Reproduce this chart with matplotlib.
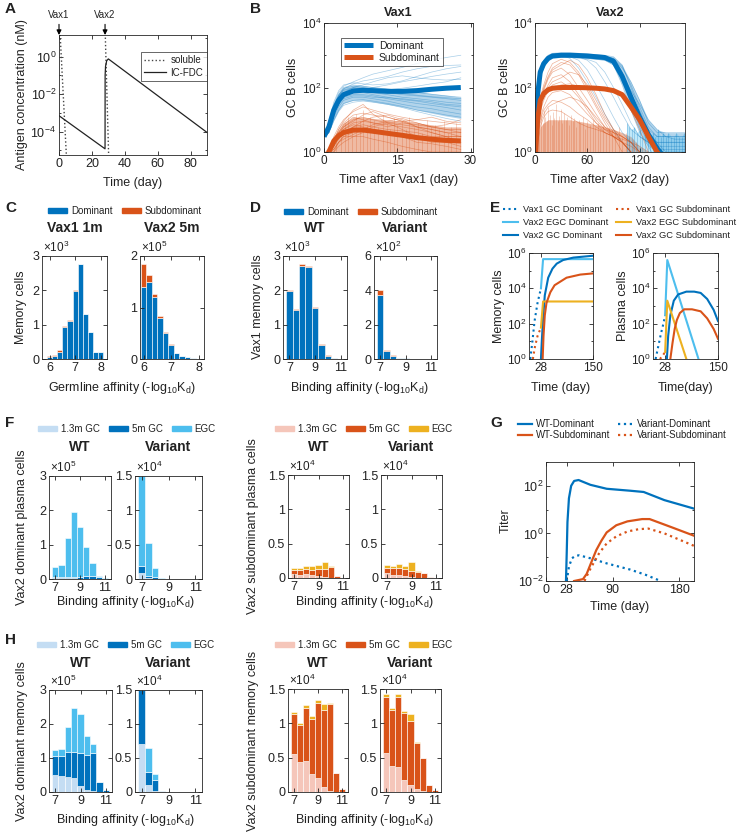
import numpy as np
import matplotlib
matplotlib.use('Agg')
import matplotlib.pyplot as plt
from matplotlib.ticker import LogLocator, NullFormatter
from matplotlib.lines import Line2D
from matplotlib.patches import Patch

plt.rcParams['font.family'] = ['Liberation Sans', 'DejaVu Sans']
plt.rcParams['mathtext.fontset'] = 'custom'
plt.rcParams['mathtext.rm'] = 'Liberation Sans'
plt.rcParams['mathtext.it'] = 'Liberation Sans:italic'
plt.rcParams['mathtext.bf'] = 'Liberation Sans:bold'
plt.rcParams['mathtext.default'] = 'regular'
plt.rcParams['text.color'] = '#222222'

BLUE = '#0072BD'
ORANGE = '#D95319'
YELLOW = '#EDB120'
LBLUE = '#4DBEEE'
PALEBLUE = '#C4DDF3'
PINK = '#F5C6BA'

# ---------------- data ----------------
# A: antigen concentration
a_fdc_t = [0, 28, 28.05, 28.3, 29, 30, 90]
a_fdc_v = [7e-4, 1.2e-5, 0.1, 0.3, 0.6, 0.75, 9e-5]
a_sol1_t = [0, 4.5]
a_sol1_v = [220, 5e-6]
a_sol2_t = [28, 30.2]
a_sol2_v = [40, 5e-6]

# B: GC B cells, Vax1
b1_t = [0, 1, 2, 3, 4, 6, 8, 10, 13, 16, 19, 22, 25, 28]
b1_dom_mean = [3, 6, 20, 40, 60, 78, 82, 80, 76, 76, 80, 88, 95, 100]
b1_sub_mean = [0.5, 1, 2.2, 3.2, 4, 4.8, 4.8, 4.4, 3.8, 3.3, 2.8, 2.5, 2.3, 2.2]
b1_dom_lo = [3, 4, 10, 20, 32, 40, 40, 36, 30, 25, 20, 16, 13, 11]
b1_dom_hi = [3, 8, 30, 65, 100, 120, 115, 105, 95, 85, 75, 65, 58, 50]
b1_sub_hi = [1, 1.5, 3, 5, 8, 12, 12, 11, 10, 9, 8, 7, 6, 6]
b1_dom_traces = [
    [3, 8, 30, 70, 110, 150, 200, 260, 330, 420, 550, 700, 850, 1000],
    [3, 7, 25, 55, 90, 130, 160, 180, 220, 300, 380, 450, 480, 500],
    [3, 9, 35, 80, 120, 140, 130, 120, 130, 160, 220, 300, 380, 450],
    [3, 6, 20, 45, 70, 100, 120, 150, 200, 230, 200, 180, 170, 180],
    [3, 7, 28, 60, 95, 110, 100, 90, 85, 95, 110, 130, 150, 200],
    [3, 6, 22, 50, 80, 95, 90, 80, 70, 60, 55, 50, 45, 40],
    [3, 5, 18, 40, 65, 80, 75, 70, 60, 50, 45, 40, 35, 32],
    [3, 5, 16, 35, 55, 70, 70, 60, 50, 42, 38, 32, 28, 25],
    [3, 4, 14, 30, 50, 60, 60, 55, 45, 38, 32, 28, 24, 20],
    [3, 4, 12, 25, 40, 50, 50, 45, 38, 30, 25, 22, 18, 15],
    [3, 4, 10, 20, 32, 40, 42, 38, 32, 26, 20, 17, 14, 12],
    [3, 6, 24, 55, 85, 100, 95, 85, 75, 65, 58, 52, 48, 45],
    [3, 7, 26, 60, 100, 120, 110, 100, 90, 80, 70, 62, 55, 50],
    [3, 5, 15, 30, 45, 55, 55, 50, 48, 45, 40, 36, 30, 28],
    [3, 4, 9, 18, 28, 35, 38, 35, 30, 24, 18, 14, 11, 9],
    [3, 6, 20, 40, 60, 75, 85, 100, 120, 150, 180, 220, 260, 300],
]
b1_sub_traces = [
    [0.5, 1, 3, 6, 10, 18, 25, 20, 15, 12, 10, 9, 8, 7],
    [0.5, 1, 2, 5, 8, 14, 16, 14, 12, 9, 8, 6, 5, 5],
    [0.5, 1, 2, 4, 6, 10, 12, 10, 8, 7, 6, 5, 4, 4],
    [0.5, 1, 1.5, 3, 5, 8, 9, 8, 7, 6, 5, 4, 3, 3],
    [0.5, 1, 1.5, 2.5, 4, 6, 7, 6, 5, 4.5, 4, 3, 3, 2],
    [0.5, 1, 1.2, 2, 3, 4, 5, 4.5, 4, 3, 2.5, 2.2, 2, 2],
    [0.5, 0.5, 1, 1.5, 2, 3, 3, 2.5, 2, 1.5, 1.2, 1, 1, 1],
    [0.5, 1, 2.5, 5, 9, 20, 30, 15, 8, 5, 3, 2, 2, 1.5],
    [0.5, 1, 1.5, 3, 4, 6, 9, 12, 14, 10, 6, 4, 3, 3],
    [0.5, 1, 1, 2, 3, 3, 4, 6, 8, 9, 6, 5, 4, 3],
    [0.5, 1, 2, 4, 7, 12, 10, 8, 6, 8, 7, 6, 5, 4],
    [0.5, 1, 1.5, 3, 5, 7, 6, 5, 4, 3, 2, 1.8, 1.5, 1.2],
    [0.5, 1, 2, 3, 6, 9, 14, 18, 12, 9, 10, 12, 9, 8],
    [0.5, 1, 1.2, 2, 2.5, 3.5, 5, 7, 9, 11, 8, 6, 7, 10],
]
b1_spike_t = [2.5, 3.5, 4.2, 5, 5.8, 6.5, 7.3, 8, 8.8, 9.5, 10.3, 11, 12, 12.8, 13.5, 14.3,
              15, 16, 16.8, 17.5, 18.5, 19.3, 20, 21, 22, 22.8, 23.5, 24.5, 25.3, 26, 27, 27.8]
b1_spike_h = [3, 5, 8, 12, 6, 15, 9, 20, 7, 12, 10, 6, 14, 8, 5, 11,
              7, 9, 5, 12, 6, 8, 4, 10, 6, 7, 5, 9, 4, 6, 8, 5]

# B: GC B cells, Vax2
b2_t = [0, 3, 6, 10, 15, 20, 30, 40, 50, 60, 70, 80, 90, 100, 110, 120, 130, 140, 150, 160, 172]
b2_dom_mean = [1, 60, 300, 550, 800, 950, 1000, 1000, 980, 950, 900, 850, 650, 220, 50, 12, 3.5, 1.3, 0.6, 0.5, 0.5]
b2_sub_mean = [0.5, 10, 40, 65, 85, 95, 100, 100, 100, 98, 95, 90, 80, 60, 25, 10, 3, 1, 0.5, 0.5, 0.5]
b2_dom_lo = [1, 40, 200, 450, 700, 850, 900, 880, 850, 800, 750, 700, 500, 120, 20, 4, 1.5, 1, 1, 1, 1]
b2_dom_hi = [1, 80, 400, 700, 1000, 1150, 1200, 1200, 1150, 1100, 1050, 1000, 900, 500, 150, 40, 10, 5, 4, 4, 4]
b2_sub_hi = [1, 3, 6, 8, 10, 10, 10, 10, 9, 8, 7, 6, 5, 4, 3, 1.5, 1, 1, 1, 1, 1]
b2_dom_traces = [
    [1, 80, 400, 700, 1000, 1150, 1200, 1200, 1150, 1100, 1050, 1000, 900, 500, 100, 20, 5, 3, 3, 3, 3],
    [1, 60, 300, 600, 900, 1050, 1100, 1100, 1050, 1000, 950, 900, 800, 300, 60, 10, 4, 2, 2, 2, 2],
    [1, 50, 250, 500, 800, 950, 1000, 1000, 950, 900, 850, 800, 600, 200, 30, 6, 2, 1.5, 1.5, 1.5, 1.5],
    [1, 40, 200, 450, 700, 850, 900, 900, 850, 800, 750, 700, 500, 120, 20, 4, 1.5, 0.5, 0.5, 0.5, 0.5],
    [1, 70, 350, 650, 950, 1100, 1150, 1100, 1000, 950, 900, 850, 750, 400, 150, 40, 8, 4, 4, 4, 4],
    [1, 50, 250, 550, 850, 1000, 1050, 1000, 900, 700, 400, 150, 50, 15, 5, 3, 2, 2, 2, 2, 2],
    [1, 45, 220, 500, 750, 900, 950, 900, 700, 350, 120, 40, 12, 4, 2, 1, 0.5, 0.5, 0.5, 0.5, 0.5],
    [1, 55, 280, 580, 880, 1000, 1000, 800, 400, 150, 50, 15, 5, 2, 1, 0.5, 0.5, 0.5, 0.5, 0.5, 0.5],
    [1, 60, 300, 600, 900, 1050, 1100, 1050, 1000, 950, 900, 800, 650, 250, 80, 30, 10, 5, 3, 2.5, 2.5],
    [1, 65, 330, 620, 920, 1050, 1100, 1050, 1000, 980, 950, 900, 800, 450, 120, 25, 6, 3, 3, 3, 3],
    [1, 40, 200, 420, 650, 800, 850, 850, 800, 750, 600, 300, 100, 30, 8, 3, 2, 1.2, 1.2, 1.2, 1.2],
    [1, 50, 260, 520, 800, 950, 1000, 950, 900, 850, 800, 750, 600, 180, 40, 10, 3, 2, 1, 1, 1],
]
b2_sub_traces = [
    [0.5, 10, 50, 120, 300, 550, 750, 600, 300, 100, 30, 10, 4, 2, 1, 0.5, 0.5, 0.5, 0.5, 0.5, 0.5],
    [0.5, 8, 40, 100, 220, 400, 600, 500, 250, 80, 25, 8, 3, 1, 0.5, 0.5, 0.5, 0.5, 0.5, 0.5, 0.5],
    [0.5, 6, 30, 80, 180, 300, 400, 250, 100, 40, 15, 6, 3, 2, 1, 0.5, 0.5, 0.5, 0.5, 0.5, 0.5],
    [0.5, 5, 25, 60, 120, 200, 250, 150, 60, 25, 10, 5, 3, 2, 1.5, 1, 0.5, 0.5, 0.5, 0.5, 0.5],
    [0.5, 4, 18, 40, 80, 120, 150, 100, 50, 20, 8, 4, 3, 2, 1, 0.5, 0.5, 0.5, 0.5, 0.5, 0.5],
    [0.5, 3, 12, 25, 50, 70, 80, 60, 30, 15, 8, 5, 4, 3, 2, 1, 0.5, 0.5, 0.5, 0.5, 0.5],
    [0.5, 3, 10, 20, 30, 40, 35, 25, 15, 10, 6, 4, 3, 2, 1, 0.5, 0.5, 0.5, 0.5, 0.5, 0.5],
    [0.5, 2, 6, 12, 18, 20, 18, 12, 8, 6, 5, 4, 3, 2.5, 2, 1, 0.5, 0.5, 0.5, 0.5, 0.5],
    [0.5, 7, 35, 90, 200, 350, 500, 700, 500, 200, 60, 15, 5, 2, 1, 0.5, 0.5, 0.5, 0.5, 0.5, 0.5],
    [0.5, 4, 20, 50, 100, 150, 200, 300, 250, 120, 40, 12, 5, 3, 2, 1, 0.5, 0.5, 0.5, 0.5, 0.5],
    [0.5, 3, 8, 15, 25, 30, 40, 50, 40, 25, 12, 6, 4, 3, 2, 1.5, 1, 0.5, 0.5, 0.5, 0.5],
    [0.5, 8, 40, 70, 90, 100, 120, 130, 110, 100, 110, 90, 80, 60, 20, 5, 1, 0.5, 0.5, 0.5, 0.5],
]
b2_sub_spike_t = [2, 4, 5, 7, 9, 10, 12, 14, 15, 17, 19, 21, 22, 24, 26, 28, 30, 31, 33, 35,
                  37, 39, 41, 43, 45, 47, 50, 52, 55, 57, 60, 63, 66, 69, 72, 75, 78, 81, 85, 88,
                  92, 96, 100, 104, 108, 112, 116]
b2_sub_spike_h = [3, 6, 10, 15, 8, 20, 12, 9, 25, 14, 7, 18, 11, 30, 9, 13, 22, 8, 16, 10,
                  12, 7, 14, 9, 11, 6, 10, 8, 12, 5, 9, 7, 10, 6, 8, 5, 7, 4, 6, 5,
                  4, 6, 3, 4, 3, 2.5, 2]
b2_dom_spike_t = [105, 108, 111, 114, 117, 120, 123, 126, 129, 132, 135, 138, 141, 144, 147,
                  150, 153, 156, 159, 162, 165, 168, 171]
b2_dom_spike_h = [8, 6, 5, 6, 4, 5, 3, 4, 5, 3, 4, 3, 5, 3, 4, 3, 4, 3, 3, 4, 3, 3, 4]

# C: memory cells by germline affinity
c_bins = [6.0, 6.2, 6.4, 6.6, 6.8, 7.0, 7.2, 7.4, 7.6, 7.8, 8.0]
c_vax1_dom = [0.07, 0.1, 0.19, 0.92, 1.11, 1.97, 2.76, 1.3, 0.8, 0.2, 0.19]     # x10^3
c_vax1_sub = [0.03, 0.03, 0.06, 0.03, 0.03, 0.03, 0.01, 0, 0, 0, 0]
c_vax2_dom = [1.4, 1.49, 1.21, 0.8, 0.51, 0.27, 0.11, 0.05, 0.03, 0.01, 0.005]  # x10^5
c_vax2_sub = [0.44, 0.15, 0.06, 0.03, 0.02, 0.02, 0.005, 0, 0, 0, 0]

# D: Vax1 memory cells by binding affinity
aff_bins = [7.0, 7.5, 8.0, 8.5, 9.0, 9.5, 10.0, 10.5, 11.0]
d_wt_dom = [1.98, 1.42, 2.72, 2.68, 1.48, 0.41, 0.1, 0.02, 0.01]   # x10^3
d_wt_sub = [0.04, 0.04, 0.04, 0.04, 0.04, 0.03, 0.03, 0, 0]
d_var_dom = [3.72, 0.44, 0.15, 0.03, 0.03, 0.01, 0, 0, 0]          # x10^2
d_var_sub = [0.3, 0.1, 0.1, 0.02, 0.05, 0.01, 0, 0, 0]

# E: memory / plasma cell kinetics
e_mem = {
    'Vax1 GC Dominant': ([3, 8, 13, 20, 28], [1, 10, 140, 1500, 1e4]),
    'Vax2 EGC Dominant': ([28, 33, 150], [1e4, 4.5e5, 4.5e5]),
    'Vax2 GC Dominant': ([28, 30, 33, 37, 45, 55, 65, 80, 104, 150],
                         [1, 10, 200, 4000, 4e4, 1.3e5, 2.5e5, 4e5, 5.5e5, 7e5]),
    'Vax1 GC Subdominant': ([9, 14, 20, 28], [1, 5, 20, 60]),
    'Vax2 EGC Subdominant': ([28, 33, 150], [60, 1800, 1800]),
    'Vax2 GC Subdominant': ([32, 34, 37, 41, 50, 60, 88, 120, 150],
                            [1, 20, 300, 1500, 6000, 1.5e4, 4e4, 6e4, 7e4]),
}
e_pc = {
    'Vax1 GC Dominant': ([6, 12, 18, 24, 28], [1, 5, 25, 100, 300]),
    'Vax2 EGC Dominant': ([28, 33, 105], [300, 4e5, 1]),
    'Vax2 GC Dominant': ([32, 35, 40, 48, 58, 77, 95, 110, 125, 140, 150],
                         [1, 20, 300, 2000, 4500, 6500, 6500, 5500, 2500, 600, 140]),
    'Vax1 GC Subdominant': ([16, 22, 28], [1, 1.5, 2.5]),
    'Vax2 EGC Subdominant': ([28, 33, 77], [2.5, 2000, 1]),
    'Vax2 GC Subdominant': ([40, 45, 50, 55, 62, 72, 90, 110, 125, 140, 150],
                            [1, 8, 50, 160, 400, 650, 650, 500, 200, 50, 14]),
}
e_style = {
    'Vax1 GC Dominant': (BLUE, ':'), 'Vax2 EGC Dominant': (LBLUE, '-'),
    'Vax2 GC Dominant': (BLUE, '-'), 'Vax1 GC Subdominant': (ORANGE, ':'),
    'Vax2 EGC Subdominant': (YELLOW, '-'), 'Vax2 GC Subdominant': (ORANGE, '-'),
}

# F: Vax2 plasma cells by binding affinity (layers: 1.3m GC, 5m GC, EGC)
f_dom_wt = [[0.02, 0.02, 0.02, 0.02, 0.01, 0.01, 0, 0, 0],
            [0.04, 0.05, 0.05, 0.05, 0.06, 0.08, 0.09, 0.05, 0.01],
            [0.28, 0.35, 1.11, 1.88, 1.45, 0.85, 0.37, 0.05, 0.02]]     # x10^5
f_dom_var = [[0.09, 0.01, 0.005, 0, 0, 0, 0, 0, 0],
             [0.1, 0.03, 0.02, 0.005, 0, 0, 0, 0, 0],
             [1.31, 0.49, 0.14, 0.005, 0, 0, 0, 0, 0]]                # x10^4
f_sub_wt = [[0.06, 0.05, 0.06, 0.04, 0.025, 0.01, 0.005, 0, 0],
            [0.06, 0.06, 0.07, 0.08, 0.11, 0.12, 0.15, 0.035, 0.005],
            [0.025, 0.035, 0.04, 0.05, 0.05, 0.1, 0.015, 0, 0]]        # x10^4
f_sub_var = [[0.07, 0.05, 0.04, 0.025, 0.015, 0.005, 0.002, 0, 0],
             [0.075, 0.095, 0.105, 0.11, 0.09, 0.08, 0.068, 0.01, 0.005],
             [0.05, 0.025, 0.055, 0.035, 0.125, 0.01, 0.005, 0, 0]]    # x10^4

# G: titers
g_names = ['WT-Dominant', 'WT-Subdominant', 'Variant-Dominant', 'Variant-Subdominant']
g_curves = {
    'WT-Dominant': ([27, 28, 29, 31, 34, 38, 44, 60, 82, 114, 132, 160, 200],
                    [0.01, 0.15, 3, 30, 100, 160, 175, 110, 75, 62, 55, 25, 11]),
    'WT-Subdominant': ([38, 50, 55, 62, 68, 75, 82, 95, 110, 130, 140, 170, 200],
                       [0.01, 0.012, 0.02, 0.07, 0.2, 0.5, 1.1, 2.2, 3.2, 4, 4, 1.8, 0.8]),
    'Variant-Dominant': ([28, 31, 35, 40, 45, 60, 82, 114, 135, 155],
                         [0.01, 0.04, 0.09, 0.115, 0.12, 0.09, 0.055, 0.03, 0.018, 0.01]),
    'Variant-Subdominant': ([52, 58, 64, 72, 82, 95, 110, 125, 138, 160, 180, 200],
                            [0.01, 0.025, 0.055, 0.15, 0.38, 0.75, 1.2, 1.5, 1.6, 1.0, 0.55, 0.3]),
}
g_style = {'WT-Dominant': (BLUE, '-'), 'WT-Subdominant': (ORANGE, '-'),
           'Variant-Dominant': (BLUE, ':'), 'Variant-Subdominant': (ORANGE, ':')}

# H: Vax2 memory cells by binding affinity
h_dom_wt = [[0.5, 0.48, 0.44, 0.4, 0.18, 0.05, 0.02, 0, 0],
            [0.57, 0.57, 0.73, 0.78, 0.97, 1.05, 1.14, 0.28, 0.06],
            [0.17, 0.22, 0.75, 1.29, 1.13, 0.54, 0.24, 0, 0]]          # x10^5
h_dom_var = [[0.7, 0.1, 0.02, 0, 0, 0, 0, 0, 0],
             [0.8, 0.2, 0.15, 0.02, 0.005, 0, 0, 0, 0],
             [0, 0.35, 0.09, 0, 0, 0, 0, 0, 0]]                      # x10^4
h_sub_wt = [[0.56, 0.44, 0.45, 0.26, 0.2, 0.07, 0.02, 0, 0],
            [0.58, 0.53, 0.78, 0.81, 1.1, 1.13, 1.26, 0.28, 0.05],
            [0.03, 0.03, 0.04, 0.04, 0.04, 0.08, 0.02, 0, 0]]          # x10^4
h_sub_var = [[0.57, 0.38, 0.37, 0.17, 0.1, 0.05, 0.01, 0, 0],
             [0.81, 0.82, 1.01, 0.98, 0.94, 0.67, 0.48, 0.1, 0.03],
             [0.05, 0.03, 0.05, 0.03, 0.09, 0.01, 0, 0, 0]]             # x10^4

# ---------------- layout helpers ----------------
W, H = 738, 832
fig = plt.figure(figsize=(W / 100, H / 100), dpi=100)


def box(x0, y0, x1, y1):
    return fig.add_axes([x0 / W, 1 - y1 / H, (x1 - x0) / W, (y1 - y0) / H])


def ftext(x, y, s, **kw):
    kw.setdefault('ha', 'center')
    kw.setdefault('va', 'center')
    return fig.text(x / W, 1 - y / H, s, **kw)


def mstyle(ax, fs=9):
    ax.tick_params(which='both', direction='in', top=True, right=True, labelsize=fs,
                   width=0.6, pad=2, colors='#222222')
    ax.tick_params(which='major', length=3)
    ax.tick_params(which='minor', length=1.6)
    for s in ax.spines.values():
        s.set_linewidth(0.6)
        s.set_color('#262626')


def logy(ax, ticks, lo, hi):
    ax.set_yscale('log')
    ax.set_ylim(lo, hi)
    ax.set_yticks(ticks)
    ax.yaxis.set_minor_locator(LogLocator(base=10, subs=(1.0,), numticks=40))
    ax.yaxis.set_minor_formatter(NullFormatter())


def stacked(ax, x, layers, colors, width):
    bottom = np.zeros(len(x))
    for vals, c in zip(layers, colors):
        ax.bar(x, vals, width, bottom=bottom, color=c, edgecolor='white', linewidth=0.4)
        bottom += np.array(vals)


def bar_axes(ax, xlim, xticks, ylim, yticks, ylabels, mult, px):
    mstyle(ax)
    ax.set_xlim(*xlim)
    ax.set_xticks(xticks)
    ax.set_ylim(*ylim)
    ax.set_yticks(yticks)
    ax.set_yticklabels(ylabels)
    ax.minorticks_off()
    ftext(px[0] + 1, px[1] - 1, r'$\times$10$^{%d}$' % mult, ha='left', va='bottom', fontsize=8.5)


def letter(x, y, s):
    ftext(x, y, s, fontsize=11, fontweight='bold', ha='left')


# ---------------- A ----------------
pa = (59, 35, 207, 155)
ax = box(*pa)
mstyle(ax)
ax.plot(a_sol1_t, a_sol1_v, ':', color='#444444', lw=1.0, label='soluble')
ax.plot(a_sol2_t, a_sol2_v, ':', color='#444444', lw=1.0)
ax.plot(a_fdc_t, a_fdc_v, '-', color='#222222', lw=0.9, label='IC-FDC')
logy(ax, [1e-4, 1e-2, 1e0], 10 ** -5.25, 10 ** 1.15)
ax.set_xlim(0, 90)
ax.set_xticks([0, 20, 40, 60, 80])
ax.legend(loc='upper left', bbox_to_anchor=(0.52, 0.9), fontsize=7, handlelength=2.2,
          frameon=True, fancybox=False, edgecolor='#222222', borderpad=0.35,
          labelspacing=0.25, handletextpad=0.5).get_frame().set_linewidth(0.6)
for d, lab in [(0, 'Vax1'), (28, 'Vax2')]:
    ax.annotate(lab, xy=(d, 1.0), xycoords=('data', 'axes fraction'),
                xytext=(d, 1.165), textcoords=('data', 'axes fraction'),
                ha='center', va='center', fontsize=7, annotation_clip=False,
                arrowprops=dict(arrowstyle='-|>', color='k', lw=0.8, mutation_scale=7,
                                shrinkA=1, shrinkB=0))
ftext(133, 183, 'Time (day)', fontsize=9)
ftext(22, 95, 'Antigen concentration (nM)', fontsize=9, rotation=90)
letter(5, 9, 'A')

# ---------------- B ----------------
letter(250, 9, 'B')
for pb, t, dt, st, dlo, dhi, shi, dm, sm, sp_t, sp_h, xl, xt, ttl, xlab, ylx in [
        ((324, 23, 473, 152), b1_t, b1_dom_traces, b1_sub_traces, b1_dom_lo, b1_dom_hi, b1_sub_hi,
         b1_dom_mean, b1_sub_mean, b1_spike_t, b1_spike_h, (0, 30.5), [0, 15, 30], 'Vax1',
         'Time after Vax1 (day)', 293),
        ((535, 23, 685, 152), b2_t, b2_dom_traces, b2_sub_traces, b2_dom_lo, b2_dom_hi, b2_sub_hi,
         b2_dom_mean, b2_sub_mean, b2_sub_spike_t, b2_sub_spike_h, (0, 172), [0, 60, 120], 'Vax2',
         'Time after Vax2 (day)', 505)]:
    ax = box(*pb)
    mstyle(ax, fs=8.5)
    ax.fill_between(t, dlo, dhi, color=BLUE, alpha=0.3, lw=0)
    for tr in dt:
        ax.plot(t, tr, color=BLUE, lw=0.5, alpha=0.35)
    ax.fill_between(t, 0.9, shi, color=ORANGE, alpha=0.4, lw=0)
    for tr in st:
        ax.plot(t, tr, color=ORANGE, lw=0.5, alpha=0.45)
    ax.vlines(sp_t, 0.9, sp_h, color=ORANGE, lw=0.5, alpha=0.35)
    if ttl == 'Vax2':
        ax.fill_between(b2_dom_spike_t, 0.9, b2_dom_spike_h, color=LBLUE, alpha=0.35, lw=0)
        ax.vlines(b2_dom_spike_t, 0.9, b2_dom_spike_h, color=BLUE, lw=0.5, alpha=0.35)
    ax.plot(t, dm, color=BLUE, lw=3.6, solid_capstyle='butt', label='Dominant')
    ax.plot(t, sm, color=ORANGE, lw=3.6, solid_capstyle='butt', label='Subdominant')
    logy(ax, [1e0, 1e2, 1e4], 1, 1e4)
    ax.set_xlim(*xl)
    ax.set_xticks(xt)
    ftext((pb[0] + pb[2]) / 2, 13, ttl, fontsize=9, fontweight='bold')
    ftext((pb[0] + pb[2]) / 2, 180, xlab, fontsize=9)
    ftext(ylx, (pb[1] + pb[3]) / 2, 'GC B cells', fontsize=9, rotation=90)
    if ttl == 'Vax1':
        lg = ax.legend(loc='upper left', bbox_to_anchor=(0.08, 0.925), fontsize=7.5,
                       handlelength=2.8, frameon=True, fancybox=False, edgecolor='#222222',
                       borderpad=0.3, labelspacing=0.2, handletextpad=0.5)
        lg.get_frame().set_linewidth(0.6)

# ---------------- C ----------------
letter(5, 208, 'C')
pc1 = (42, 256, 107, 359)
ax = box(*pc1)
stacked(ax, c_bins, [c_vax1_dom, c_vax1_sub], [BLUE, ORANGE], 0.2)
bar_axes(ax, (5.7, 8.25), [6, 7, 8], (0, 3), [0, 1, 2, 3], ['0', '1', '2', '3'], 3, pc1)
pc2 = (140, 256, 204, 359)
ax = box(*pc2)
stacked(ax, c_bins, [c_vax2_dom, c_vax2_sub], [BLUE, ORANGE], 0.2)
bar_axes(ax, (5.87, 8.2), [6, 7, 8], (0, 2), [0, 1, 2], ['0', '1', '2'], 5, pc2)
ftext(75, 228, 'Vax1 1m', fontsize=10, fontweight='bold')
ftext(172, 228, 'Vax2 5m', fontsize=10, fontweight='bold')
ftext(122, 388, r'Germline affinity (-log$_{10}$K$_d$)', fontsize=9)
ftext(21, 307, 'Memory cells', fontsize=9, rotation=90)
fig.legend(handles=[Patch(color=BLUE), Patch(color=ORANGE)], labels=['Dominant', 'Subdominant'],
           loc='center', bbox_to_anchor=(125 / W, 1 - 211 / H), ncol=2, frameon=False, fontsize=7,
           handlelength=1.9, handleheight=0.55, columnspacing=1.0, handletextpad=0.4)

# ---------------- D ----------------
letter(250, 208, 'D')
pd1 = (283, 256, 347, 359)
ax = box(*pd1)
stacked(ax, aff_bins, [d_wt_dom, d_wt_sub], [BLUE, ORANGE], 0.5)
bar_axes(ax, (6.5, 11.5), [7, 9, 11], (0, 3), [0, 1, 2, 3], ['0', '1', '2', '3'], 3, pd1)
pd2 = (374, 256, 437, 359)
ax = box(*pd2)
stacked(ax, aff_bins, [d_var_dom, d_var_sub], [BLUE, ORANGE], 0.5)
bar_axes(ax, (6.5, 11.5), [7, 9, 11], (0, 6), [0, 2, 4, 6], ['0', '2', '4', '6'], 2, pd2)
ftext(315, 228, 'WT', fontsize=10, fontweight='bold')
ftext(405, 228, 'Variant', fontsize=10, fontweight='bold')
ftext(360, 388, r'Binding affinity (-log$_{10}$K$_d$)', fontsize=9)
ftext(258, 307, 'Vax1 memory cells', fontsize=9, rotation=90)
fig.legend(handles=[Patch(color=BLUE), Patch(color=ORANGE)], labels=['Dominant', 'Subdominant'],
           loc='center', bbox_to_anchor=(361 / W, 1 - 212 / H), ncol=2, frameon=False, fontsize=7,
           handlelength=1.9, handleheight=0.55, columnspacing=1.0, handletextpad=0.4)

# ---------------- E ----------------
letter(490, 208, 'E')
for pe, data, ylab, ylx, xlab in [((529, 253, 593, 359), e_mem, 'Memory cells', 499, 'Time (day)'),
                                   ((653, 253, 718, 359), e_pc, 'Plasma cells', 623, 'Time(day)')]:
    ax = box(*pe)
    mstyle(ax, fs=8.5)
    for name, (t, v) in data.items():
        c, ls = e_style[name]
        ax.plot(t, v, ls, color=c, lw=1.5)
    logy(ax, [1e0, 1e2, 1e4, 1e6], 1, 1e6)
    ax.set_xlim(0, 150)
    ax.set_xticks([28, 150])
    ftext((pe[0] + pe[2]) / 2, 388, xlab, fontsize=9)
    ftext(ylx, (pe[1] + pe[3]) / 2, ylab, fontsize=9, rotation=90)
fig.legend(handles=[Line2D([0], [0], color=e_style[k][0], ls=e_style[k][1], lw=1.5) for k in e_mem],
           labels=list(e_mem.keys()), loc='upper left', bbox_to_anchor=(503 / W, 1 - 205 / H),
           ncol=2, frameon=False, fontsize=6.7, handlelength=1.6, columnspacing=0.9,
           handletextpad=0.5, labelspacing=0.45, borderpad=0, borderaxespad=0)

# ---------------- F ----------------
letter(5, 423, 'F')
dom_cols = [PALEBLUE, BLUE, LBLUE]
sub_cols = [PINK, ORANGE, YELLOW]
pf1 = (49, 476, 111, 579)
ax = box(*pf1)
stacked(ax, aff_bins, f_dom_wt, dom_cols, 0.5)
bar_axes(ax, (6.5, 11.5), [7, 9, 11], (0, 3), [0, 1, 2, 3], ['0', '1', '2', '3'], 5, pf1)
pf2 = (135, 476, 202, 579)
ax = box(*pf2)
stacked(ax, aff_bins, f_dom_var, dom_cols, 0.5)
bar_axes(ax, (6.5, 11.5), [7, 9, 11], (0, 1.5), [0, 0.5, 1, 1.5], ['0', '0.5', '1', '1.5'], 4, pf2)
pf3 = (288, 475, 349, 578)
ax = box(*pf3)
stacked(ax, aff_bins, f_sub_wt, sub_cols, 0.5)
bar_axes(ax, (6.5, 11.5), [7, 9, 11], (0, 1.5), [0, 0.5, 1, 1.5], ['0', '0.5', '1', '1.5'], 4, pf3)
pf4 = (381, 475, 442, 578)
ax = box(*pf4)
stacked(ax, aff_bins, f_sub_var, sub_cols, 0.5)
bar_axes(ax, (6.5, 11.5), [7, 9, 11], (0, 1.5), [0, 0.5, 1, 1.5], ['0', '0.5', '1', '1.5'], 4, pf4)

# ---------------- H ----------------
letter(5, 640, 'H')
ph1 = (49, 690, 112, 792)
ax = box(*ph1)
stacked(ax, aff_bins, h_dom_wt, dom_cols, 0.5)
bar_axes(ax, (6.5, 11.5), [7, 9, 11], (0, 3), [0, 1, 2, 3], ['0', '1', '2', '3'], 5, ph1)
ph2 = (135, 690, 202, 792)
ax = box(*ph2)
stacked(ax, aff_bins, h_dom_var, dom_cols, 0.5)
bar_axes(ax, (6.5, 11.5), [7, 9, 11], (0, 1.5), [0, 0.5, 1, 1.5], ['0', '0.5', '1', '1.5'], 4, ph2)
ph3 = (288, 689, 348, 792)
ax = box(*ph3)
stacked(ax, aff_bins, h_sub_wt, sub_cols, 0.5)
bar_axes(ax, (6.5, 11.5), [7, 9, 11], (0, 1.5), [0, 0.5, 1, 1.5], ['0', '0.5', '1', '1.5'], 4, ph3)
ph4 = (380, 689, 441, 792)
ax = box(*ph4)
stacked(ax, aff_bins, h_sub_var, sub_cols, 0.5)
bar_axes(ax, (6.5, 11.5), [7, 9, 11], (0, 1.5), [0, 0.5, 1, 1.5], ['0', '0.5', '1', '1.5'], 4, ph4)

for pl, pr, ty, ly, xy, lab, ylx, cols, lgx in [
        (pf1, pf2, 447, 429, 602, 'Vax2 dominant plasma cells', 22, dom_cols, 127),
        (pf3, pf4, 447, 429, 602, 'Vax2 subdominant plasma cells', 253, sub_cols, 364),
        (ph1, ph2, 663, 645, 820, 'Vax2 dominant memory cells', 22, dom_cols, 126),
        (ph3, ph4, 663, 645, 820, 'Vax2 subdominant memory cells', 253, sub_cols, 364)]:
    ftext((pl[0] + pl[2]) / 2, ty, 'WT', fontsize=10, fontweight='bold')
    ftext((pr[0] + pr[2]) / 2, ty, 'Variant', fontsize=10, fontweight='bold')
    ftext((pl[0] + pr[2]) / 2, xy, r'Binding affinity (-log$_{10}$K$_d$)', fontsize=9)
    ftext(ylx, (pl[1] + pl[3]) / 2, lab, fontsize=9, rotation=90)
    fig.legend(handles=[Patch(color=c) for c in cols], labels=['1.3m GC', '5m GC', 'EGC'],
               loc='center', bbox_to_anchor=(lgx / W, 1 - ly / H), ncol=3, frameon=False,
               fontsize=7, handlelength=1.9, handleheight=0.55, columnspacing=1.0,
               handletextpad=0.4)

# ---------------- G ----------------
letter(490, 423, 'G')
pg = (546, 462, 694, 581)
ax = box(*pg)
mstyle(ax)
for name in g_names:
    t, v = g_curves[name]
    c, ls = g_style[name]
    ax.plot(t, v, ls, color=c, lw=1.6)
logy(ax, [1e-2, 1e0, 1e2], 1e-2, 1e3)
ax.set_xlim(0, 200)
ax.set_xticks([0, 28, 90, 180])
ftext(620, 607, 'Time (day)', fontsize=9)
ftext(506, 521, 'Titer', fontsize=9, rotation=90)
fig.legend(handles=[Line2D([0], [0], color=g_style[k][0], ls=g_style[k][1], lw=1.6) for k in g_names],
           labels=g_names, loc='upper left', bbox_to_anchor=(518 / W, 1 - 419 / H), ncol=2,
           frameon=False, fontsize=6.9, handlelength=1.5, columnspacing=0.8, handletextpad=0.4,
           labelspacing=0.15, borderpad=0, borderaxespad=0)

fig.savefig('out.png', dpi=100)
